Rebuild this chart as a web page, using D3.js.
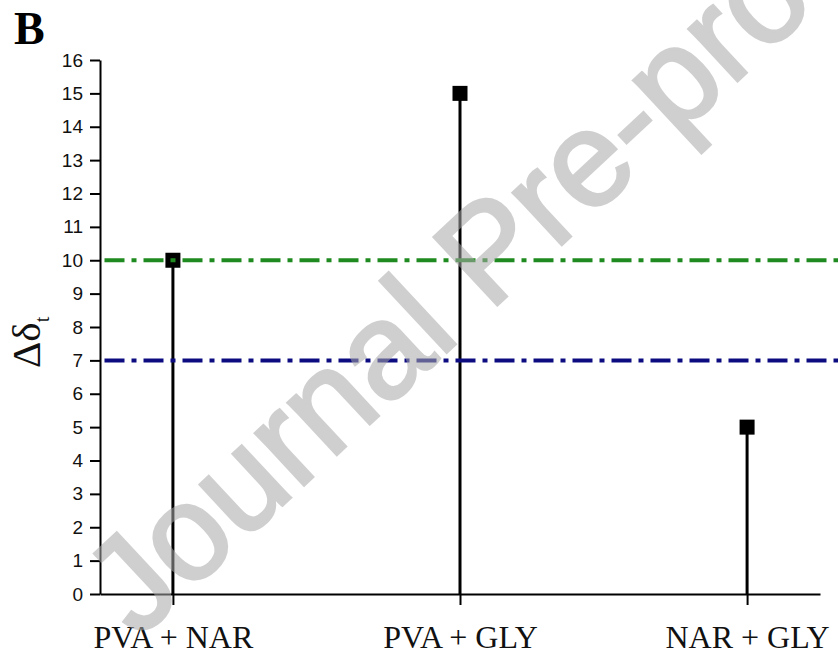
<!DOCTYPE html>
<meta charset="utf-8">
<script src="https://d3js.org/d3.v7.min.js"></script>
<style>
  body { margin: 0; background: #fff; }
  svg { display: block; }
</style>
<body>
<div id="chart"></div>
<script>

// data
var categories = ["PVA + NAR", "PVA + GLY", "NAR + GLY"];
var values = [10, 15, 5];
var yTickValues = [0, 1, 2, 3, 4, 5, 6, 7, 8, 9, 10, 11, 12, 13, 14, 15, 16];
var refLevels = [10, 7];          // the two dash-dot reference lines
var refColors = ["#1f8a1f", "#0c0c80"];

var W = 838, H = 657;
var plotL = 100, plotR = 820, plotT = 60, plotB = 594;

var svg = d3.select("#chart")
  .append("svg")
    .attr("width", W)
    .attr("height", H);

var x = d3.scalePoint()
    .domain(categories)
    .range([plotL, plotR])
    .padding(0.254);

var y = d3.scaleLinear()
    .domain([0, 16])
    .range([plotB, plotT]);

// y axis
var gy = svg.append("g")
    .attr("transform", "translate(" + plotL + ",0)")
    .call(d3.axisLeft(y).tickValues(yTickValues).tickSize(10).tickSizeOuter(0).tickPadding(7));
gy.select(".domain").attr("stroke-width", 2);
gy.selectAll(".tick line").attr("stroke-width", 2);
gy.selectAll(".tick text")
    .attr("font-family", "Liberation Sans, Arial, sans-serif")
    .attr("font-size", 19)
    .attr("fill", "#111");

// x axis
var gx = svg.append("g")
    .attr("transform", "translate(0," + plotB + ")")
    .call(d3.axisBottom(x).tickSize(11).tickSizeOuter(0));
gx.select(".domain").attr("stroke-width", 2);
gx.selectAll(".tick line").attr("stroke-width", 2);
gx.selectAll(".tick text")
    .attr("y", 54)
    .attr("dy", 0)
    .attr("font-family", "Liberation Serif, Times New Roman, serif")
    .attr("font-size", 32)
    .attr("fill", "#111");

// stems
svg.selectAll("line.stem")
  .data(values)
  .enter()
  .append("line")
    .attr("class", "stem")
    .attr("x1", function(d, i) { return x(categories[i]); })
    .attr("x2", function(d, i) { return x(categories[i]); })
    .attr("y1", y(0))
    .attr("y2", function(d) { return y(d); })
    .attr("stroke", "#000")
    .attr("stroke-width", 3);

// square markers
var s = 15;
svg.selectAll("rect.pt")
  .data(values)
  .enter()
  .append("rect")
    .attr("class", "pt")
    .attr("x", function(d, i) { return x(categories[i]) - s / 2; })
    .attr("y", function(d) { return y(d) - s / 2; })
    .attr("width", s)
    .attr("height", s)
    .attr("fill", "#000");

// reference lines (drawn over the markers, like the original)
svg.selectAll("line.ref")
  .data(refLevels)
  .enter()
  .append("line")
    .attr("class", "ref")
    .attr("x1", plotL)
    .attr("x2", W)
    .attr("y1", function(d) { return y(d); })
    .attr("y2", function(d) { return y(d); })
    .attr("stroke", function(d, i) { return refColors[i]; })
    .attr("stroke-width", 4)
    .attr("stroke-dasharray", "20,7,5,7")
    .attr("stroke-dashoffset", 34.5);

// panel letter
svg.append("text")
    .attr("x", 14)
    .attr("y", 44)
    .attr("font-family", "Liberation Serif, Times New Roman, serif")
    .attr("font-weight", "bold")
    .attr("font-size", 46)
    .text("B");

// y label
var yl = svg.append("text")
    .attr("transform", "translate(40,368) rotate(-90)")
    .attr("font-family", "Liberation Serif, Times New Roman, serif")
    .attr("font-size", 41)
    .attr("fill", "#111");
yl.append("tspan").text("Δδ");
yl.append("tspan").attr("font-size", 20).attr("dy", 9).text("t");

// watermark, semi-transparent over the chart
svg.append("g")
    .attr("opacity", 0.55)
  .append("text")
    .attr("transform", "translate(138,640) rotate(-43)")
    .attr("font-family", "Liberation Sans, Arial, sans-serif")
    .attr("font-size", 135)
    .attr("fill", "#a8a8a8")
    .attr("stroke", "#a8a8a8")
    .attr("stroke-width", 3)
    .text("Journal Pre-proof");

</script>
</body>
